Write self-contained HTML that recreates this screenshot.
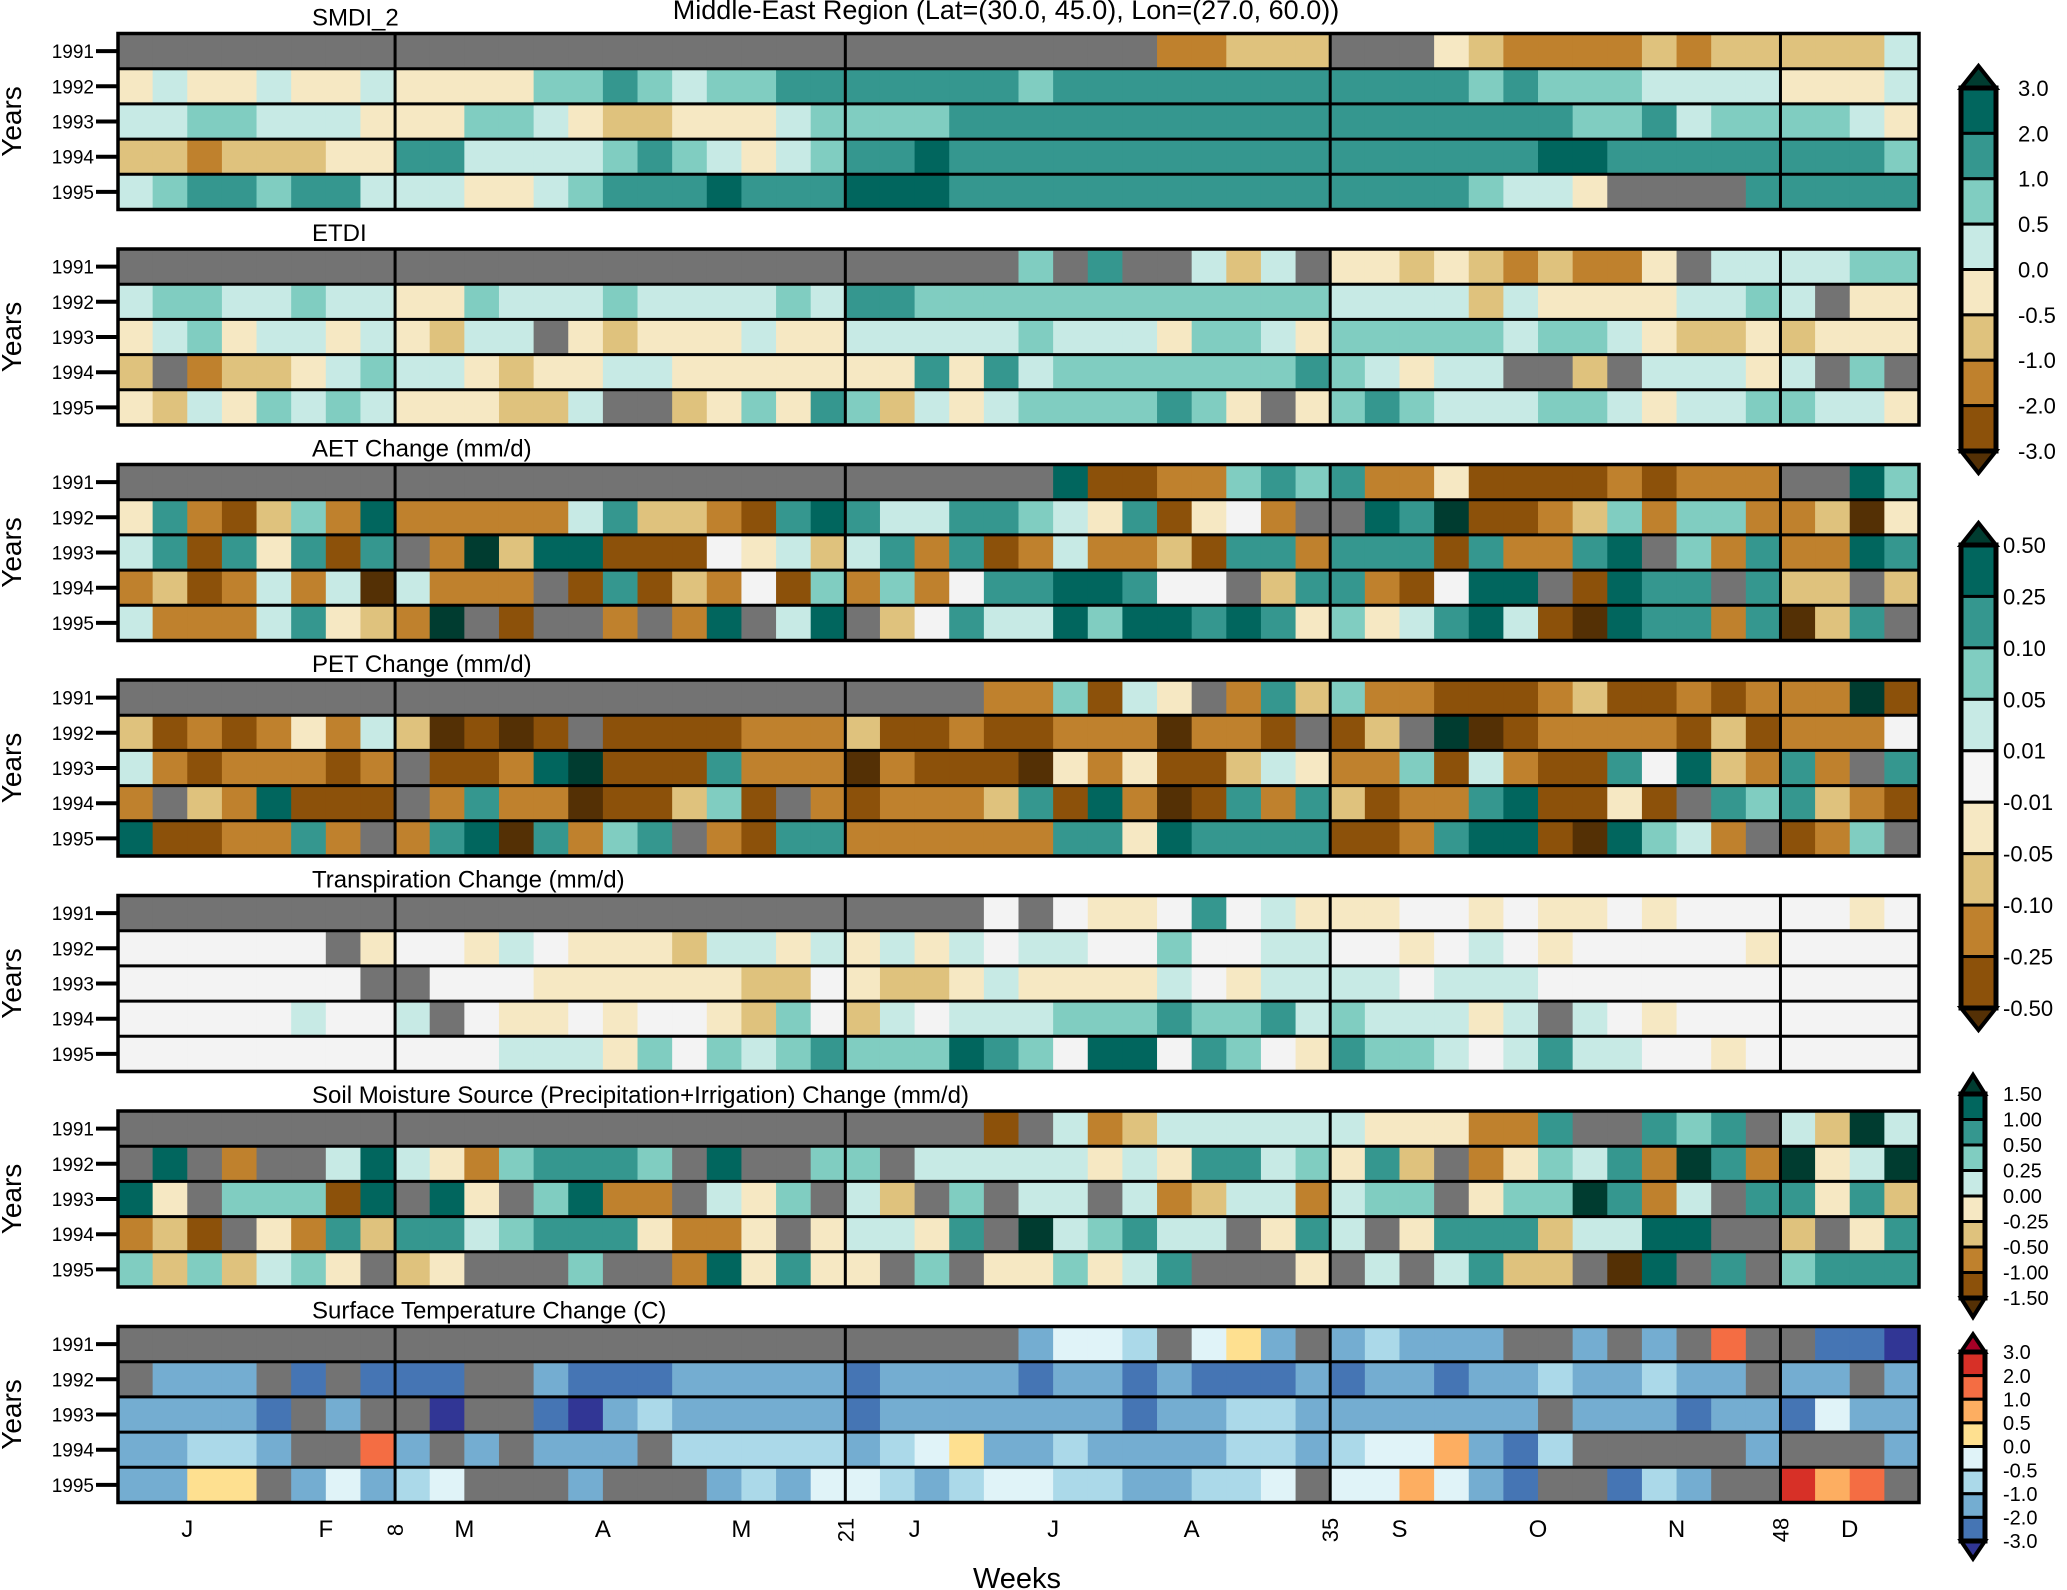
<!DOCTYPE html>
<html><head><meta charset="utf-8"><style>
html,body{margin:0;padding:0;background:#fff;}
svg{display:block;font-family:"Liberation Sans",sans-serif;}
</style></head><body>
<svg id="chart" width="2067" height="1590" viewBox="0 0 2067 1590" xmlns="http://www.w3.org/2000/svg">
<text x="1006" y="19" font-size="27" text-anchor="middle">Middle-East Region (Lat=(30.0, 45.0), Lon=(27.0, 60.0))</text>
<g id="panels"></g>
<g id="xaxis"></g>
<g id="cbars"></g>
<text x="1017" y="1588" font-size="29" text-anchor="middle">Weeks</text>
</svg>
<script>
const years = ["1991","1992","1993","1994","1995"];
const panelTitles = ["SMDI_2","ETDI","AET Change (mm/d)","PET Change (mm/d)","Transpiration Change (mm/d)","Soil Moisture Source (Precipitation+Irrigation) Change (mm/d)","Surface Temperature Change (C)"];
// run-length coded weekly category codes (code*count)
const smdi = [
"0*30 b*2 c*3 0*3 d c b*4 c b c*5 e",
"d e d*2 e d*2 e d*4 f*2 g f e f*2 g*7 f g*12 f g f*3 e*4 d*3 e",
"e*2 f*2 e*3 d d*2 f*2 e d c*2 d*3 e f f*3 g*11 g*7 f*2 g e f*2 f*2 e d",
"c*2 b c*3 d*2 g*2 e*4 f g f e d e f g*2 h g*11 g*6 h*2 g*5 g*3 f",
"e f g*2 f g*2 e e*2 d*2 e f g*3 h g*3 h*3 g*11 g*4 f e*2 d 0*4 g g*4"];
const etdi = [
"0*26 f 0 g 0*2 e c e 0 d*2 c d c b c b*2 d 0 e*2 e*2 f*2",
"e f*2 e*2 f e*2 d*2 f e*3 f e*4 f e g*2 f*12 e*4 c e d*4 e*2 f e 0 d*2",
"d e f d e*2 d e d c e*2 0 d c d*3 e d*2 e*5 f e*3 d f*2 e d f*5 e f*2 e d c*2 d c d*3",
"c 0 b c*2 d e f e*2 d c d*2 e*2 d*5 d*2 g d g e f*7 g f e d e*2 0*2 c 0 e*3 d e 0 f 0",
"d c e d f e f e d*3 c*2 e 0*2 c d f d g f c e d e f*4 g f d 0 d f g f e*3 f*2 e d e*2 f f e*2 d"];
const aet = [
"0*27 h a*2 b*2 f g f g b*2 d a*4 b a b*3 0*2 h f",
"d g b a c f b h b*5 e g c*2 b a g h g e*2 g*2 f e d g a d w b 0 0 h g j a*2 b c f b f*2 b b c i d",
"e g a g d g a g 0 b j c h*2 a*3 w d e c e g b g a b e b*2 c a g*2 b g*3 a g b*2 g h 0 f b g b*2 h g",
"b c a b e b e i e b*3 0 a g a c b w a f b f b w g*2 h*2 g w*2 0 c g g b a w h*2 0 a h g*2 0 g c*2 0 c",
"e b*3 e g d c b j 0 a 0*2 b 0 b h 0 e h 0 c w g e*2 h f h*2 g h g d f d e g h e a i h g*2 b g i c g 0"];
const pet = [
"0*25 b*2 f a e d 0 b g c f b*2 a*3 b c a*2 b a b b*2 j a",
"c a b a b d b e c i a i a 0 a*4 b*3 c a*2 b a*2 b*3 i b*2 a 0 a c 0 j i a b*4 a c a b*3 w",
"e b a b*3 a b 0 a*2 b h j a*3 g b*3 i b a*3 i d b d a*2 c e d b*2 f a e b a*2 g w h c b g b 0 g",
"b 0 c b h a*3 0 b g b*2 i a*2 c f a 0 b a b*3 c g a h b i a g b g c a b*2 g h a*2 d a 0 g f g c b a",
"h a*2 b*2 g b 0 b g h i g b f g 0 b a g*2 b*6 g*2 d h g*4 a*2 b g h*2 a i h f e b 0 a b f 0"];
const transp = [
"0*25 w 0 w d*2 w g w e d d*2 w*2 d w d*2 w d w*3 w*2 d w",
"w*6 0 d w*2 d e w d*3 c e*2 d e d e d e w e*2 w*2 f w*2 e*2 w*2 d w e w d w*5 d w*4",
"w*7 0 0 w*3 d*6 c*2 w d c*2 d e d*4 e w d e*2 e*2 w e*3 w*7 w*4",
"w*5 e w*2 e 0 w d*2 w d w*2 d c f w c e w e*3 f*3 g f*2 g e f e*3 d e 0 e w d w*3 w*4",
"w*11 e*3 d f w f e f g f*3 h g f w h*2 w g f w d g f*2 e w e g e*2 w*2 d w w*4"];
const soil = [
"0*25 a 0 e b c e*5 e d*3 b*2 g 0*2 g f g 0 e c j e",
"0 h 0 b 0*2 e h e d b f g*3 f 0 h 0*2 f f 0 e*5 d e d g*2 e f d g c 0 b d f e g b j g b j d e j",
"h d 0 f*3 a h 0 h d 0 f h b*2 0 e d f 0 e c 0 f 0 e*2 0 e b c e*2 b e f*2 0 d f*2 j g b e 0 g g d g c",
"b c a 0 d b g c g*2 e f g*3 d b*2 d 0 d e*2 d g 0 j e f g e*2 0 d g e 0 d g*3 c e*2 h*2 0*2 c 0 d g",
"f c f c e f d 0 c d 0*3 f 0*2 b h d g d d 0 f 0 d*2 f d e g 0*3 d 0 e 0 e g c*2 0 i h 0 g 0 f g*3"];
const temp = [
"0*26 C E*2 D 0 E F C 0 C D C*3 0*2 C 0 C 0 H 0 0 B*2 A",
"0 C*3 0 B 0 B B*2 0*2 C B*3 C*5 B C*4 B C*2 B C B*3 C B C*2 B C*2 D C*2 D C*2 0 C*2 0 C",
"C*4 B 0 C 0 0 A 0*2 B A C D C*5 B C*7 B C*2 D*2 C C*6 0 C*3 B C*2 B E C*2",
"C*2 D*2 C 0*2 H C 0 C 0 C*3 0 D*5 C D E F C*2 D C*4 D*2 C D E*2 G C B D 0*5 C 0 0*2 C",
"C*2 F*2 0 C E C D E 0*3 C 0*3 C D C E E D C D E*2 D*2 C*2 D*2 E 0 E*2 G E C B 0*2 B D C 0*2 I G H 0"];
const panelData = [smdi, etdi, aet, pet, transp, soil, temp];
const palette = {
 "0":"#737373","i":"#543005","a":"#8c510a","b":"#bf812d","c":"#dfc27d","d":"#f6e8c3",
 "w":"#f3f3f3","e":"#c7eae5","f":"#80cdc1","g":"#35978f","h":"#01665e","j":"#003c30",
 "A":"#313695","B":"#4575b4","C":"#74add1","D":"#abd9e9","E":"#e0f3f8",
 "F":"#fee090","G":"#fdae61","H":"#f46d43","I":"#d73027"};
const monthLabels = ["J","F","M","A","M","J","J","A","S","O","N","D"];
const monthWeeks = [2,6,10,14,18,23,27,31,37,41,45,50];
const sepWeeks = [8,21,35,48];
const cb1Labels = ["3.0","2.0","1.0","0.5","0.0","-0.5","-1.0","-2.0","-3.0"];
const cb2Labels = ["0.50","0.25","0.10","0.05","0.01","-0.01","-0.05","-0.10","-0.25","-0.50"];
const cb3Labels = ["1.50","1.00","0.50","0.25","0.00","-0.25","-0.50","-1.00","-1.50"];
const cb4Labels = ["3.0","2.0","1.0","0.5","0.0","-0.5","-1.0","-2.0","-3.0"];

function expand(s){let out=[];s.trim().split(/\s+/).forEach(t=>{const [c,n]=t.split('*');for(let k=0;k<(n?+n:1);k++)out.push(c);});return out;}
const NS="http://www.w3.org/2000/svg";
const X0=118, X1=1919, NW=52, PT0=33.5, PSTEP=215.5, PH=176;
const xS = w => X0 + w*(X1-X0)/NW;
const yS = (p,r) => PT0 + p*PSTEP + r*PH/5;
function mk(tag, attrs, parent){const e=document.createElementNS(NS,tag);for(const k in attrs)e.setAttribute(k,attrs[k]);parent.appendChild(e);return e;}
const panels=document.getElementById('panels');
panelData.forEach((rows,p)=>{
  const g=mk('g',{},panels);
  
  
  const t=mk('text',{x:312,y:yS(p,0)-8,'font-size':24},g);
  t.textContent=panelTitles[p];
  
  
  const yl=mk('text',{x:0,y:0,'font-size':28,'text-anchor':'middle',transform:`translate(21,${yS(p,2.5)}) rotate(-90)`},g);
  yl.textContent='Years';
  
  
  rows.forEach((row,r)=>{
    const s=expand(row);
    for(let w=0;w<NW;w++){
      const ch=s[w]||'0';
      const c=mk('rect',{x:xS(w),y:yS(p,r),width:xS(w+1)-xS(w)+0.6,height:PH/5,fill:palette[ch]||'#737373'},g);
      
      
    }
    const lb=mk('text',{x:94,y:yS(p,r+0.5)+7,'font-size':19,'text-anchor':'end'},g);
    lb.textContent=years[r];
    
    
    mk('line',{x1:96,x2:X0,y1:yS(p,r+0.5),y2:yS(p,r+0.5),stroke:'#000','stroke-width':4},g);
    if(r>0) mk('line',{x1:X0,x2:X1,y1:yS(p,r),y2:yS(p,r),stroke:'#000','stroke-width':3},g);
  });
  sepWeeks.forEach(w=>mk('line',{x1:xS(w),x2:xS(w),y1:yS(p,0),y2:yS(p,5),stroke:'#000','stroke-width':3},g));
  mk('rect',{x:X0,y:yS(p,0),width:X1-X0,height:PH,fill:'none',stroke:'#000','stroke-width':3.5},g);
});
const xa=document.getElementById('xaxis');
monthLabels.forEach((m,i)=>{
  const t=mk('text',{x:xS(monthWeeks[i]),y:1537,'font-size':24,'text-anchor':'middle'},xa);
  t.textContent=m;
  
  
});
sepWeeks.forEach(w=>{
  const t=mk('text',{x:0,y:0,'font-size':22,'text-anchor':'middle',transform:`translate(${xS(w)+8},1530) rotate(-90)`},xa);
  t.textContent=String(w);
  
  
});
const cb=document.getElementById('cbars');
function colorbar(name,colors,topTri,botTri,labels,top,bot,x,wdt,lx,fs){
  const g=mk('g',{},cb);
  
  
  const n=colors.length, h=(bot-top)/n, th=Math.min(22,h*0.75);
  mk('polygon',{points:`${x},${top} ${x+wdt/2},${top-th} ${x+wdt},${top}`,fill:topTri,stroke:'#000','stroke-width':4},g);
  mk('polygon',{points:`${x},${bot} ${x+wdt/2},${bot+th} ${x+wdt},${bot}`,fill:botTri,stroke:'#000','stroke-width':4},g);
  colors.forEach((c,i)=>mk('rect',{x:x,y:top+i*h,width:wdt,height:h,fill:c,stroke:'#000','stroke-width':3},g));
  mk('rect',{x:x,y:top,width:wdt,height:bot-top,fill:'none',stroke:'#000','stroke-width':5},g);
  labels.forEach((l,i)=>{
    const t=mk('text',{x:lx,y:top+i*(bot-top)/(labels.length-1)+fs*0.36,'font-size':fs},g);
    t.textContent=l;
    
    
  });
}
const brbg8=["#01665e","#35978f","#80cdc1","#c7eae5","#f6e8c3","#dfc27d","#bf812d","#8c510a"];
const brbg10=["#01665e","#35978f","#80cdc1","#c7eae5","#f5f5f5","#f6e8c3","#dfc27d","#bf812d","#8c510a"];
const rdbu8=["#d73027","#f46d43","#fdae61","#fee090","#e0f3f8","#abd9e9","#74add1","#4575b4"];
colorbar('colorbar-smdi-etdi',brbg8,"#003c30","#543005",cb1Labels,88,451,1961,35,2018,22);
colorbar('colorbar-aet-pet-transp',brbg10,"#003c30","#543005",cb2Labels,545,1008,1961,35,2003,22);
colorbar('colorbar-soil-moisture',brbg8,"#003c30","#543005",cb3Labels,1094,1298,1961,24,2003,20);
colorbar('colorbar-temperature',rdbu8,"#a50026","#313695",cb4Labels,1352,1541,1961,24,2003,20);
</script>
</body></html>
